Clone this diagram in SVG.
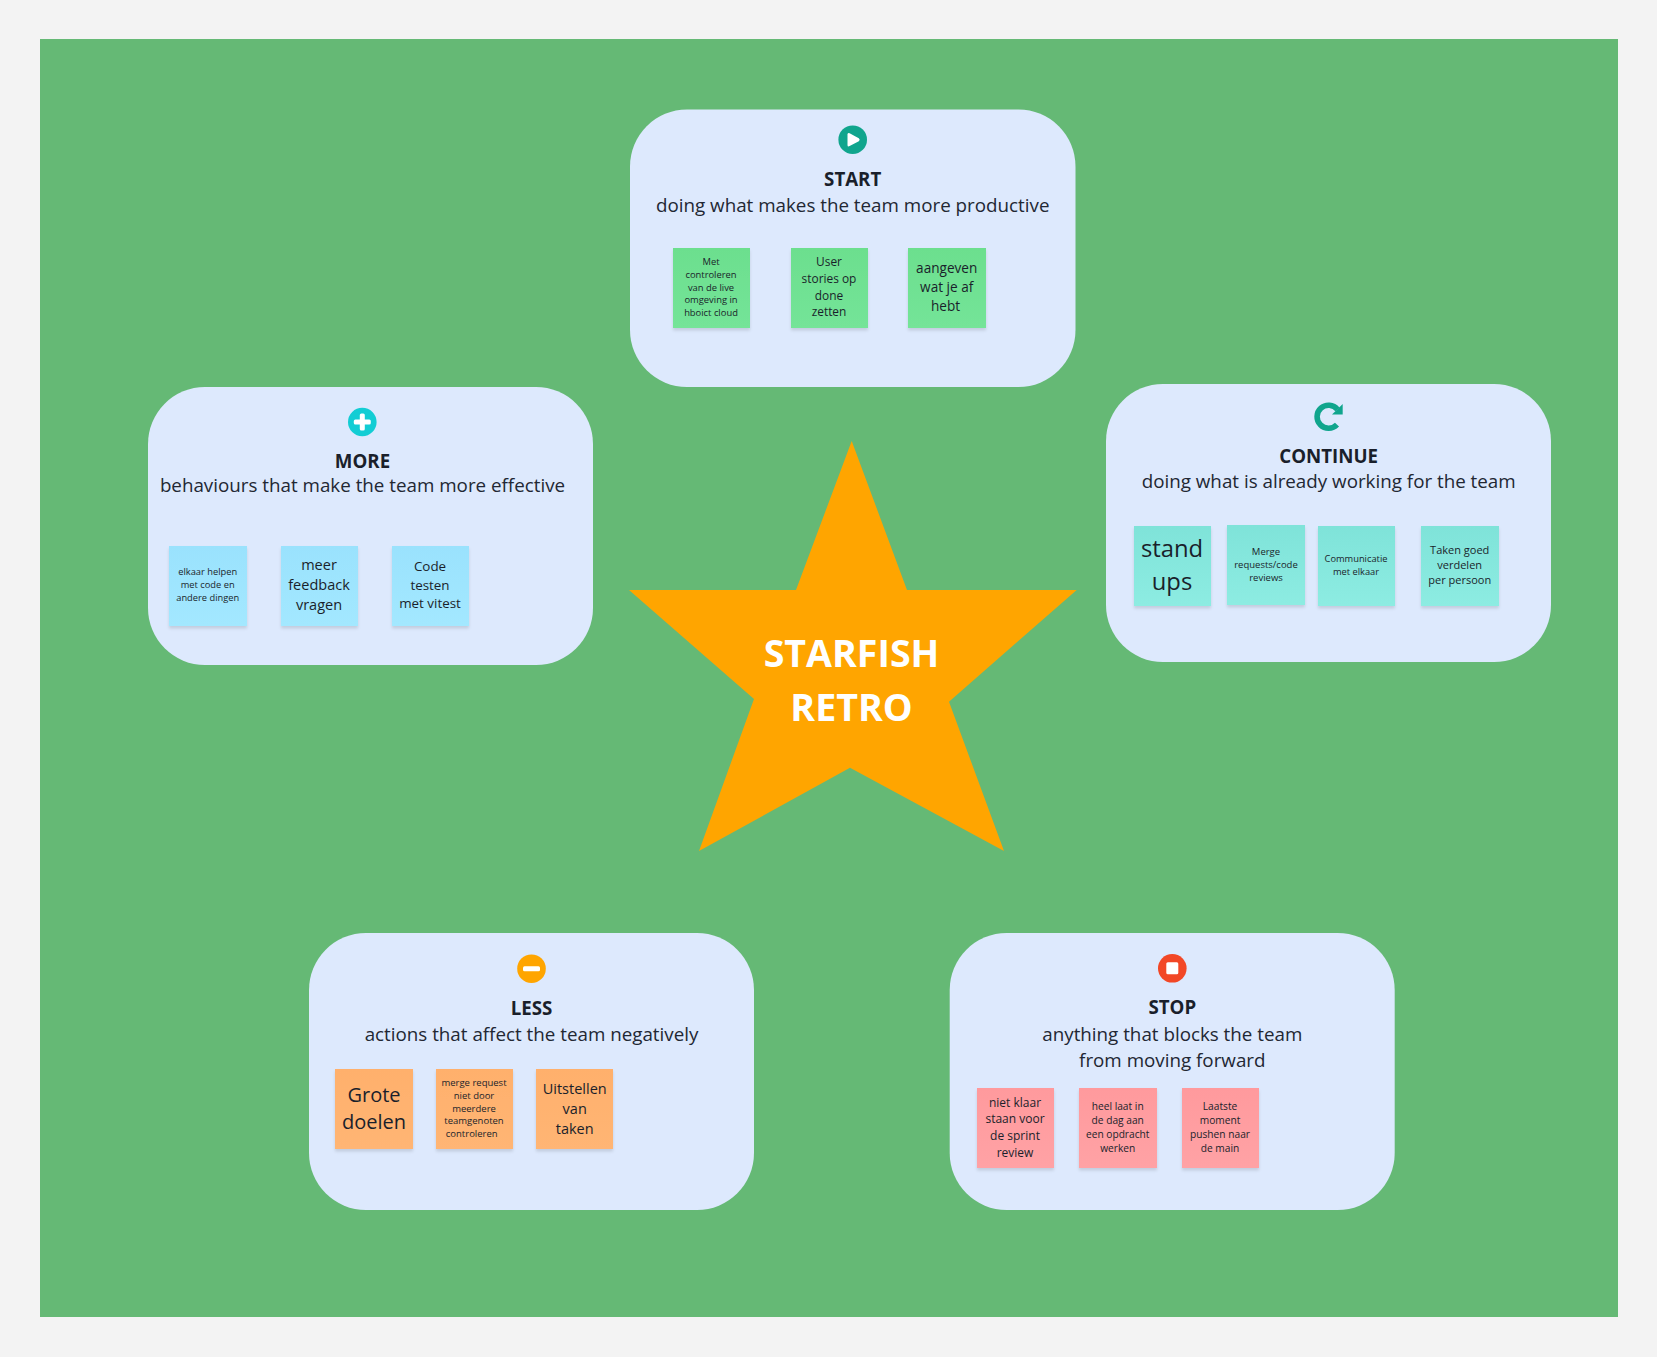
<svg xmlns="http://www.w3.org/2000/svg" width="1657" height="1357" viewBox="0 0 1657 1357">
<style>
text{font-family:"Open Sans","Noto Sans","DejaVu Sans",sans-serif;text-anchor:middle;fill:#1a1f2b}
.panel{fill:#dde9fd}
.t{font-weight:700;font-size:18.7px}
.s{font-size:18.8px;fill:#222733}
.star{font-weight:700;font-size:37.6px;fill:#fff}
.ic{fill:#fff}
.st{filter:url(#sh)}
.n{fill:url(#gn)}.b{fill:url(#gb)}.c{fill:url(#gc)}.o{fill:url(#go)}.r{fill:url(#gr)}
</style>
<defs>
<filter id="sh" x="-10%" y="-10%" width="120%" height="120%"><feDropShadow dx="0" dy="2.5" stdDeviation="1.5" flood-color="#000" flood-opacity="0.12"/></filter>
<linearGradient id="gn" x1="0" y1="0" x2="0" y2="1"><stop offset="0" stop-color="#6cdf8e"/><stop offset="1" stop-color="#74e498"/></linearGradient>
<linearGradient id="gb" x1="0" y1="0" x2="0" y2="1"><stop offset="0" stop-color="#9ae2fd"/><stop offset="1" stop-color="#a3e8ff"/></linearGradient>
<linearGradient id="gc" x1="0" y1="0" x2="0" y2="1"><stop offset="0" stop-color="#7fe3d9"/><stop offset="1" stop-color="#8decE2"/></linearGradient>
<linearGradient id="go" x1="0" y1="0" x2="0" y2="1"><stop offset="0" stop-color="#ffb06c"/><stop offset="1" stop-color="#ffb574"/></linearGradient>
<linearGradient id="gr" x1="0" y1="0" x2="0" y2="1"><stop offset="0" stop-color="#ff9a9d"/><stop offset="1" stop-color="#ffa2a5"/></linearGradient>
</defs>
<rect width="1657" height="1357" fill="#f3f3f3"/>
<rect x="40" y="39" width="1578" height="1278" fill="#65b975"/>

<g id="star">
<polygon points="851.7,441 907,590 1076.7,590 949,701.7 1004,851 850,767.7 699,851 754,699 629,590 796,590" fill="#ffa500"/>
<text class="star" x="851.5" y="666.7">STARFISH</text>
<text class="star" x="851.5" y="720.7">RETRO</text>
</g>

<g id="start">
<rect class="panel" x="630" y="109.5" width="445.5" height="277.5" rx="57"/>
<circle cx="852.7" cy="139.7" r="14.3" fill="#10a58d"/>
<path class="ic" d="M847.5 134.5Q847.5 132.2 849.6 133.3L858.8 138.2Q860.6 139.7 858.8 141.2L849.6 146.1Q847.5 147.2 847.5 144.9Z"/>
<text class="t" x="852.7" y="186">START</text>
<text class="s" x="852.7" y="212">doing what makes the team more productive</text>
<g id="start-1"><rect class="st n" x="673" y="248" width="77" height="80"/>
<text font-size="9.4" x="711" y="265">Met</text><text font-size="9.4" x="711" y="278.3">controleren</text><text font-size="9.4" x="711" y="290.5">van de live</text><text font-size="9.4" x="711" y="303">omgeving in</text><text font-size="9.4" x="711" y="316">hboict cloud</text></g>
<g id="start-2"><rect class="st n" x="791" y="248" width="77" height="80"/>
<text font-size="11.9" x="829" y="266">User</text><text font-size="11.9" x="829" y="283.3">stories op</text><text font-size="11.9" x="829" y="300">done</text><text font-size="11.9" x="829" y="316">zetten</text></g>
<g id="start-3"><rect class="st n" x="908" y="248" width="78" height="80"/>
<text font-size="13.6" x="946.7" y="273">aangeven</text><text font-size="13.6" x="946.7" y="292">wat je af</text><text font-size="13.6" x="945.5" y="311">hebt</text></g>
</g>

<g id="more">
<rect class="panel" x="148" y="387" width="445" height="278" rx="57"/>
<circle cx="362.3" cy="422" r="14.3" fill="#12cdd4"/>
<rect class="ic" x="353.8" y="419.5" width="17" height="5" rx="1.5"/><rect class="ic" x="359.8" y="413.5" width="5" height="17" rx="1.5"/>
<text class="t" x="362.5" y="468">MORE</text>
<text class="s" x="362.5" y="492">behaviours that make the team more effective</text>
<g id="more-1"><rect class="st b" x="169" y="546" width="78" height="80"/>
<text font-size="9.3" x="207.7" y="575">elkaar helpen</text><text font-size="9.3" x="207.7" y="588">met code en</text><text font-size="9.3" x="207.7" y="601">andere dingen</text></g>
<g id="more-2"><rect class="st b" x="281" y="546" width="77" height="80"/>
<text font-size="14.5" x="319" y="570">meer</text><text font-size="14.5" x="319" y="590">feedback</text><text font-size="14.5" x="319" y="610">vragen</text></g>
<g id="more-3"><rect class="st b" x="392" y="546" width="77" height="80"/>
<text font-size="13.4" x="430" y="571">Code</text><text font-size="13.4" x="430" y="590">testen</text><text font-size="13.4" x="430" y="608">met vitest</text></g>
</g>

<g id="continue">
<rect class="panel" x="1106" y="384" width="445" height="278" rx="57"/>
<path d="M1337.5 409.5A11.5 11.5 0 1 0 1337 424.6" fill="none" stroke="#10a58d" stroke-width="5.6"/>
<polygon points="1342.7,404 1342.7,414.5 1332,414.5" fill="#10a58d"/>
<text class="t" x="1328.7" y="462.7">CONTINUE</text>
<text class="s" x="1328.7" y="488">doing what is already working for the team</text>
<g id="continue-1"><rect class="st c" x="1134" y="526" width="77" height="80"/>
<text font-size="23.8" x="1172" y="557">stand</text><text font-size="23.8" x="1172" y="590">ups</text></g>
<g id="continue-2"><rect class="st c" x="1227" y="525" width="78" height="80"/>
<text font-size="9.5" x="1266" y="555">Merge</text><text font-size="9.5" x="1266" y="568">requests/code</text><text font-size="9.5" x="1266" y="581">reviews</text></g>
<g id="continue-3"><rect class="st c" x="1318" y="526" width="77" height="80"/>
<text font-size="9.3" x="1356" y="562">Communicatie</text><text font-size="9.3" x="1356" y="575">met elkaar</text></g>
<g id="continue-4"><rect class="st c" x="1421" y="526" width="78" height="80"/>
<text font-size="11" x="1459.7" y="554">Taken goed</text><text font-size="11" x="1459.7" y="569">verdelen</text><text font-size="11" x="1459.7" y="584">per persoon</text></g>
</g>

<g id="less">
<rect class="panel" x="309" y="933" width="445" height="277" rx="57"/>
<circle cx="531.5" cy="968.7" r="14.3" fill="#ffa500"/>
<rect class="ic" x="523" y="966.2" width="17" height="5" rx="1.5"/>
<text class="t" x="531.5" y="1015">LESS</text>
<text class="s" x="531.5" y="1041">actions that affect the team negatively</text>
<g id="less-1"><rect class="st o" x="335" y="1069" width="78" height="80"/>
<text font-size="20" x="374" y="1101.7">Grote</text><text font-size="20" x="374" y="1128.7">doelen</text></g>
<g id="less-2"><rect class="st o" x="436" y="1069" width="77" height="80"/>
<text font-size="9.5" x="474" y="1086">merge request</text><text font-size="9.5" x="474" y="1099">niet door</text><text font-size="9.5" x="474" y="1112">meerdere</text><text font-size="9.5" x="474" y="1124">teamgenoten</text><text font-size="9.5" x="471.7" y="1137">controleren</text></g>
<g id="less-3"><rect class="st o" x="536" y="1069" width="77" height="80"/>
<text font-size="14.5" x="574.7" y="1094">Uitstellen</text><text font-size="14.5" x="574.7" y="1114">van</text><text font-size="14.5" x="574.7" y="1134">taken</text></g>
</g>

<g id="stop">
<rect class="panel" x="949.7" y="933" width="445" height="277" rx="57"/>
<circle cx="1172.3" cy="968.3" r="14.3" fill="#f24726"/>
<rect class="ic" x="1166.3" y="962.3" width="12" height="12" rx="1.5"/>
<text class="t" x="1172.3" y="1014">STOP</text>
<text class="s" x="1172.3" y="1041">anything that blocks the team</text>
<text class="s" x="1172.3" y="1067">from moving forward</text>
<g id="stop-1"><rect class="st r" x="977" y="1088" width="77" height="80"/>
<text font-size="12" x="1015" y="1107">niet klaar</text><text font-size="12" x="1015" y="1123">staan voor</text><text font-size="12" x="1015" y="1140">de sprint</text><text font-size="12" x="1015" y="1157">review</text></g>
<g id="stop-2"><rect class="st r" x="1079" y="1088" width="78" height="80"/>
<text font-size="10.2" x="1117.7" y="1110">heel laat in</text><text font-size="10.2" x="1117.7" y="1124">de dag aan</text><text font-size="10.2" x="1117.7" y="1138">een opdracht</text><text font-size="10.2" x="1117.7" y="1152">werken</text></g>
<g id="stop-3"><rect class="st r" x="1182" y="1088" width="77" height="80"/>
<text font-size="10.2" x="1220" y="1110">Laatste</text><text font-size="10.2" x="1220" y="1124">moment</text><text font-size="10.2" x="1220" y="1138">pushen naar</text><text font-size="10.2" x="1220" y="1152">de main</text></g>
</g>
</svg>
